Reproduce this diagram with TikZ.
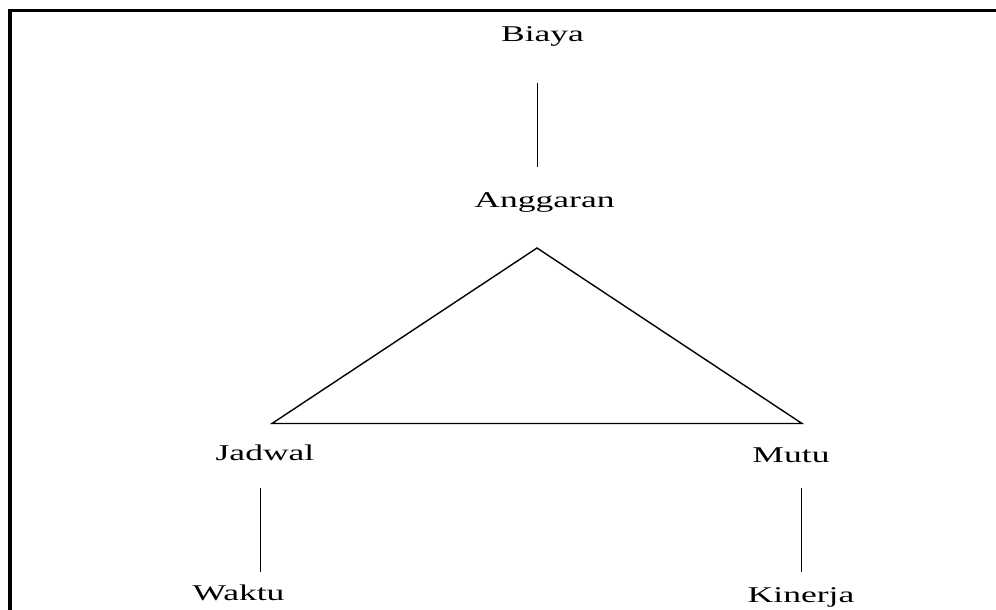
\documentclass[tikz,border=0pt]{standalone}
\usepackage{fontspec}
\setmainfont[FakeStretch=1.58]{Liberation Serif}
\begin{document}
\begin{tikzpicture}[x=1pt,y=-1pt,
  lbl/.style={anchor=base, inner sep=0pt, font=\fontsize{22.5}{27}\selectfont},
  conn/.style={line width=1pt},
  tri/.style={line width=1.4pt, line join=miter},
  frame/.style={line width=3.5pt}]
\useasboundingbox (0,0) rectangle (996,610);
% frame (only left and top edges visible)
\coordinate (fTL) at (10,10.5);
\coordinate (fTR) at (1000,10.5);
\coordinate (fBL) at (10,615);
\draw[frame] (fBL) -- (fTL) -- (fTR);
% labels
\node[lbl] (biaya) at (542.5,42) {Biaya};
\node[lbl] (anggaran) at (544.5,207) {Anggaran};
\node[lbl] (jadwal) at (265,460) {Jadwal};
\node[lbl] (mutu) at (791,462) {Mutu};
\node[lbl] (waktu) at (238.5,600) {Waktu};
\node[lbl] (kinerja) at (801,602) {Kinerja};
% connector end points
\coordinate (b1) at (537,83);
\coordinate (b2) at (537,167);
\coordinate (apex) at (537,248);
\coordinate (tl) at (272,423.5);
\coordinate (tr) at (802,423.5);
\coordinate (j1) at (260,488);
\coordinate (j2) at (260,572);
\coordinate (m1) at (801,488);
\coordinate (m2) at (801,572);
% connectors
\draw[conn] (b1) -- (b2);
\draw[tri] (apex) -- (tl) -- (tr) -- cycle;
\draw[conn] (j1) -- (j2);
\draw[conn] (m1) -- (m2);
\end{tikzpicture}
\end{document}
